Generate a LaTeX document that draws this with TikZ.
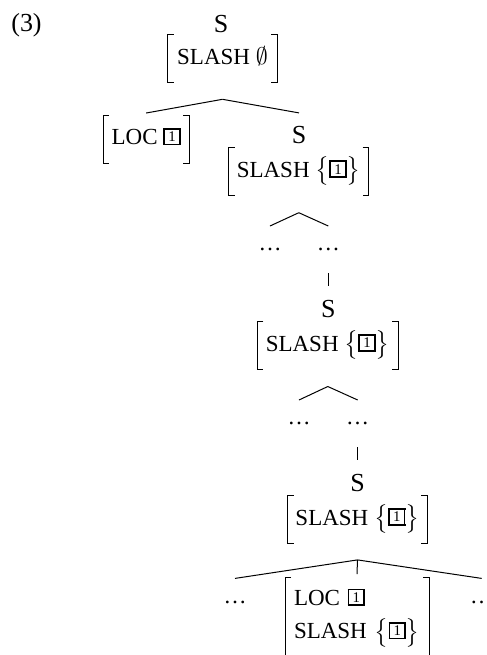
\documentclass[tikz,border=0pt]{standalone}
\usepackage{amsmath}
\usepackage{fontspec}
\setmainfont{Liberation Serif}
\usetikzlibrary{positioning}
\newcommand\tagbox[1]{\raisebox{0.6pt}{\setlength\fboxrule{0.85pt}\setlength\fboxsep{0pt}\fbox{\makebox[7pt]{\rule{0pt}{7pt}\raisebox{1pt}{\fontsize{7.4}{8}\selectfont #1}}}}}
\newcommand\setof[1]{$\bigl\{$#1$\bigr\}$}
\tikzset{
  cat/.style={inner sep=0pt, anchor=base, text height=8.5pt, text depth=0pt, font=\fontsize{13}{15}\selectfont},
  avm/.style={inner xsep=0pt, inner ysep=0pt, minimum height=23.4pt, text height=8pt, text depth=2.5pt, font=\fontsize{11.5}{14}\selectfont},
  more/.style={inner sep=0pt, anchor=base, font=\fontsize{11.5}{14}\selectfont},
  edge/.style={line width=0.5pt},
  brk/.style={line width=0.5pt},
}
\begin{document}
\begin{tikzpicture}[x=0.5pt, y=-0.5pt]
  \useasboundingbox (0,0) rectangle (487,655);
  % example number
  \node[anchor=base, inner sep=0pt, font=\fontsize{13}{15}\selectfont] (ex) at (26.5,31) {(3)};
  % root
  \node[cat] (s0) at (221,32) {S};
  \node[avm, minimum width=54.5pt] (f0) at (222.5,58.5) {SLASH $\emptyset$};
  % filler and head daughter
  \node[avm, minimum width=42.8pt] (loc) at (146.2,139.4) {LOC \tagbox{1}};
  \node[cat] (s1) at (299,143.3) {S};
  \node[avm, minimum width=69.5pt] (f1) at (298.8,171.7) {SLASH \setof{\tagbox{1}}};
  \node[more] (d1a) at (270,250) {\dots};
  \node[more] (d1b) at (328.3,250) {\dots};
  % middle
  \node[cat] (s2) at (328.3,317.3) {S};
  \node[avm, minimum width=70pt] (f2) at (327.8,345.5) {SLASH \setof{\tagbox{1}}};
  \node[more] (d2a) at (299,424) {\dots};
  \node[more] (d2b) at (357.7,424) {\dots};
  % bottom
  \node[cat] (s3) at (357.7,491) {S};
  \node[avm, minimum width=69.5pt] (f3) at (357.5,519.5) {SLASH \setof{\tagbox{1}}};
  \node[more] (d3a) at (235,603) {\dots};
  \node[more] (d3b) at (481.7,603) {\dots};
  \node[anchor=north west, align=left, text width=63pt, inner xsep=4.3pt, inner ysep=5.2pt,
        font=\fontsize{11.5}{16.7}\selectfont] (f4) at (285,577.7)
        {LOC \tagbox{1}\\SLASH \setof{\tagbox{1}}};
  % brackets
  \foreach \n in {f0,loc,f1,f2,f3,f4} {
    \draw[brk] ([xshift=3pt]\n.north west) -- (\n.north west) -- (\n.south west) -- ([xshift=3pt]\n.south west);
    \draw[brk] ([xshift=-3pt]\n.north east) -- (\n.north east) -- (\n.south east) -- ([xshift=-3pt]\n.south east);
  }
  % branches
  \draw[edge] ([yshift=-8.5pt]f0.south) -- ([yshift=1.3pt]loc.north);
  \draw[edge] ([yshift=-8.5pt]f0.south) -- ([yshift=6.5pt]s1.north);
  \draw[edge] ([yshift=-8.6pt]f1.south) -- ([yshift=12pt]d1a.base);
  \draw[edge] ([yshift=-8.6pt]f1.south) -- ([yshift=12pt]d1b.base);
  \draw[edge] ([yshift=-11.6pt]d1b.base) -- ([yshift=6.8pt]s2.north);
  \draw[edge] ([yshift=-8.6pt]f2.south) -- ([yshift=12pt]d2a.base);
  \draw[edge] ([yshift=-8.6pt]f2.south) -- ([yshift=12pt]d2b.base);
  \draw[edge] ([yshift=-11.6pt]d2b.base) -- ([yshift=6.8pt]s3.north);
  \draw[edge] ([yshift=-8.3pt]f3.south) -- ([yshift=12.3pt]d3a.base);
  \draw[edge] ([yshift=-8.3pt]f3.south) -- ([yshift=12.3pt]d3b.base);
  \draw[edge] ([yshift=-8.3pt]f3.south) -- ([yshift=1.8pt]f4.north);
\end{tikzpicture}
\end{document}
